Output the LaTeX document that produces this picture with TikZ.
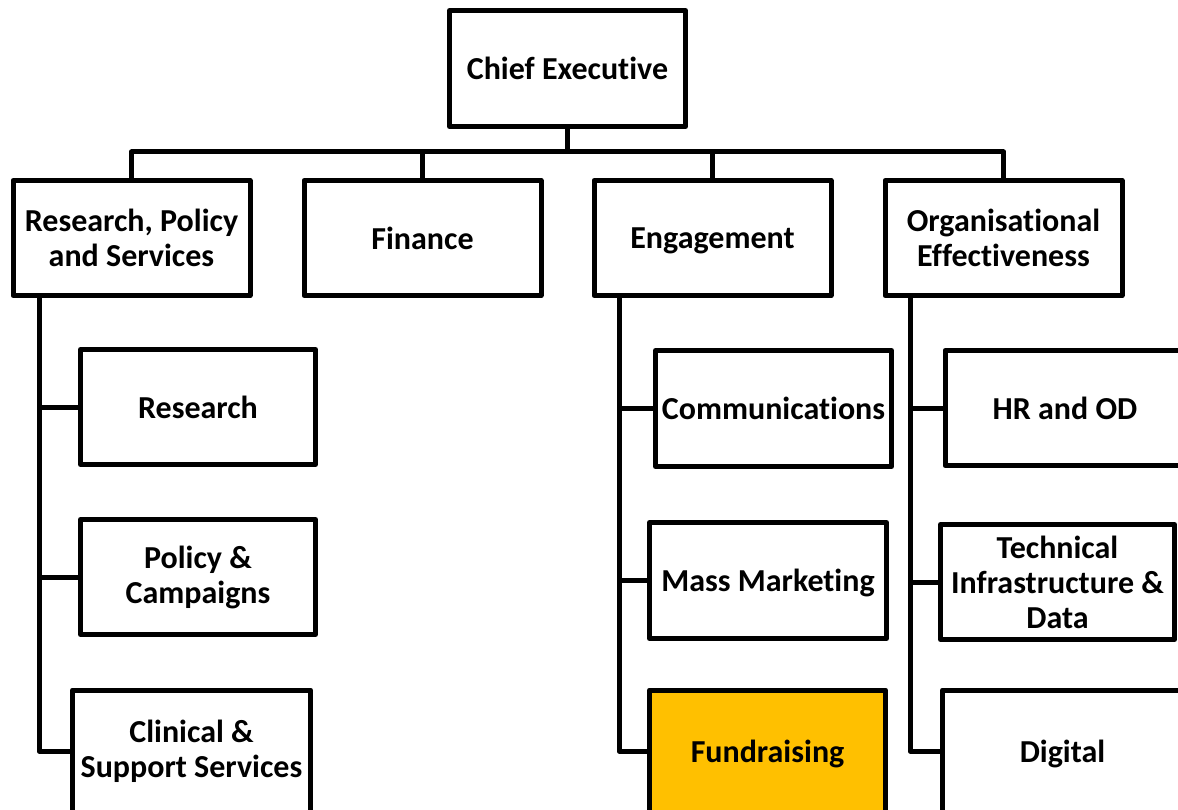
\documentclass[tikz,border=0pt]{standalone}
\usepackage{fontspec}
\setmainfont{Carlito}[Ligatures=NoCommon]
\definecolor{fundgold}{HTML}{FFC000}
\begin{document}
\begin{tikzpicture}[x=1pt,y=-1pt,
  box/.style={draw=black, line width=5pt, line join=round, fill=white, align=center,
    inner sep=0pt, outer sep=0pt, font=\fontsize{32}{35}\selectfont\bfseries},
  nodesc/.style={text depth=0pt},
  conn/.style={draw=black, line width=5pt, line join=round}]
\clip (0,0) rectangle (1178,810);
% top level
\node[box, minimum width=236pt, minimum height=116pt] (ce) at (567.5,68.5) {Chief Executive};
\node[box, minimum width=237pt, minimum height=115pt] (rps) at (131.5,238) {Research, Policy\\and Services};
\node[box, minimum width=237pt, minimum height=115pt] (fin) at (422.5,238) {Finance};
\node[box, nodesc, minimum width=237pt, minimum height=115pt] (eng) at (712.5,238) {Engagement};
\node[box, minimum width=237pt, minimum height=115pt] (org) at (1003.5,238) {Organisational\\Effectiveness};
% research children
\node[box, minimum width=235pt, minimum height=115pt] (res) at (198,407) {Research};
\node[box, minimum width=235pt, minimum height=115pt] (pol) at (198,577) {Policy \&\\Campaigns};
\node[box, minimum width=238pt, minimum height=122pt] (cli) at (191.5,751) {Clinical \&\\Support Services};
% engagement children
\node[box, minimum width=236pt, minimum height=116pt] (com) at (773.5,408.5) {Communications};
\node[box, nodesc, minimum width=237pt, minimum height=116pt] (mm) at (768,580.5) {Mass Marketing};
\node[box, nodesc, fill=fundgold, minimum width=236pt, minimum height=122pt] (fund) at (767.5,751) {Fundraising};
% organisational children
\node[box, minimum width=240pt, minimum height=115pt] (hr) at (1065,408) {HR and OD};
\node[box, minimum width=234pt, minimum height=115pt] (tech) at (1057.5,582) {Technical\\Infrastructure \&\\Data};
\node[box, nodesc, minimum width=240pt, minimum height=122pt] (dig) at (1062.5,751) {Digital};
% bus
\coordinate (bus) at (567.5,152);
\draw[conn] (ce.south) -- (bus);
\draw[conn] (rps.north) |- (bus) -| (org.north);
\draw[conn] (fin.north) -- (fin.north |- bus);
\draw[conn] (eng.north) -- (eng.north |- bus);
% spines
\coordinate (rsp) at ([xshift=26pt]rps.south west);
\coordinate (esp) at ([xshift=25pt]eng.south west);
\coordinate (osp) at ([xshift=25pt]org.south west);
\draw[conn] (rsp) |- (cli.west);
\draw[conn] (rsp |- res.west) -- (res.west);
\draw[conn] (rsp |- pol.west) -- (pol.west);
\draw[conn] (esp) |- (fund.west);
\draw[conn] (esp |- com.west) -- (com.west);
\draw[conn] (esp |- mm.west) -- (mm.west);
\draw[conn] (osp) |- (dig.west);
\draw[conn] (osp |- hr.west) -- (hr.west);
\draw[conn] (osp |- tech.west) -- (tech.west);
\end{tikzpicture}
\end{document}
